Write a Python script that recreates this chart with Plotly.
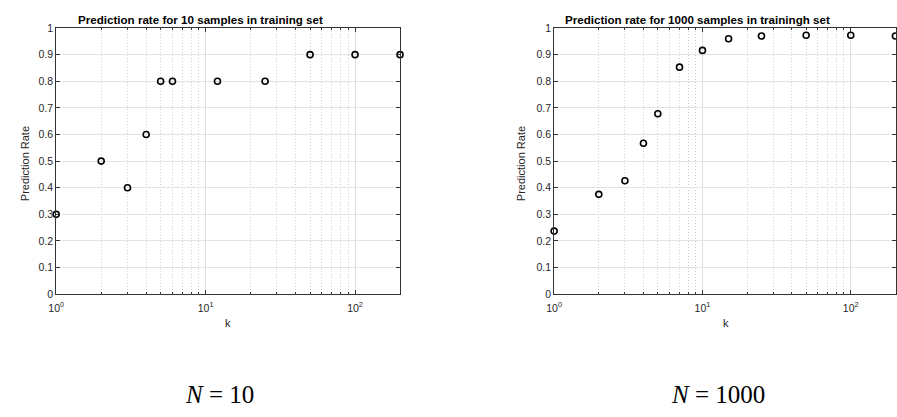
import numpy as np
import plotly.graph_objects as go

# ---- data ----
k_small = [1, 2, 3, 4, 5, 6, 12, 25, 50, 100, 200]
rate_small = [0.3, 0.5, 0.4, 0.6, 0.8, 0.8, 0.8, 0.8, 0.9, 0.9, 0.9]

k_large = [1, 2, 3, 4, 5, 7, 10, 15, 25, 50, 100, 200]
rate_large = [0.237, 0.375, 0.426, 0.567, 0.678, 0.853, 0.916, 0.960, 0.970, 0.973, 0.973, 0.970]

title_left = "Prediction rate for 10 samples in training set"
title_right = "Prediction rate for 1000 samples in trainingh set"
ylabel = "Prediction Rate"
xlabel = "k"
cap_left = "<i>N</i> = 10"
cap_right = "<i>N</i> = 1000"

W, H = 897, 417
FONT = "Liberation Sans, Arial, sans-serif"
TXT = "#262626"

def px(x):
    return x / W

def py(y):
    return (H - y) / H

y_dom = [py(296.7), py(22.7)]
left_dom = [px(48.7), px(396.0)]
right_x0 = 551.7
right_dom = [px(right_x0), 1.0]
right_end = np.log10(200) + 0.004

minor_vals = [m * 10 ** e for e in range(0, 3) for m in range(2, 10) if m * 10 ** e <= 200]

fig = go.Figure()

marker = dict(symbol="circle-open", size=6, color="black", line=dict(width=1.6, color="black"))
fig.add_trace(go.Scatter(x=k_small, y=rate_small, mode="markers", marker=marker,
                         xaxis="x", yaxis="y", showlegend=False, cliponaxis=False))
fig.add_trace(go.Scatter(x=k_large, y=rate_large, mode="markers", marker=marker,
                         xaxis="x2", yaxis="y2", showlegend=False, cliponaxis=False))

def xax(dom, rng, anchor):
    return dict(type="log", domain=dom, range=rng, anchor=anchor,
                tickvals=[1, 10, 100],
                ticktext=["10<sup>0</sup>", "10<sup>1</sup>", "10<sup>2</sup>"],
                showgrid=True, gridcolor="#dedede", gridwidth=1,
                showline=True, linecolor="#333333", linewidth=1, mirror="allticks",
                ticks="inside", ticklen=4, tickcolor="#333333",
                ticklabelstandoff=4,
                minor=dict(tickvals=minor_vals, showgrid=True, gridcolor="#cfcfcf",
                           griddash="1px,2px", gridwidth=1, ticks="inside", ticklen=2,
                           tickcolor="#333333"),
                tickfont=dict(family=FONT, size=10.5, color=TXT),
                zeroline=False, fixedrange=True)

def yax(anchor):
    return dict(domain=y_dom, range=[0, 1], anchor=anchor,
                tickvals=[0, 0.1, 0.2, 0.3, 0.4, 0.5, 0.6, 0.7, 0.8, 0.9, 1],
                ticktext=["0", "0.1", "0.2", "0.3", "0.4", "0.5", "0.6", "0.7", "0.8", "0.9", "1"],
                showgrid=True, gridcolor="#e3e3e3", gridwidth=1,
                showline=True, linecolor="#333333", linewidth=1, mirror="allticks",
                ticks="inside", ticklen=4, tickcolor="#333333",
                tickfont=dict(family=FONT, size=10.5, color=TXT),
                zeroline=False, fixedrange=True)

annotations = [
    dict(text="<b>" + title_left + "</b>", x=px(194.5), y=py(13.5), xref="paper", yref="paper",
         showarrow=False, font=dict(family=FONT, size=11.6, color="black"), xanchor="center", yanchor="middle"),
    dict(text="<b>" + title_right + "</b>", x=px(696), y=py(13.5), xref="paper", yref="paper",
         showarrow=False, font=dict(family=FONT, size=11.6, color="black"), xanchor="center", yanchor="middle"),
    dict(text=xlabel, x=px(222), y=py(326), xref="paper", yref="paper", showarrow=False,
         font=dict(family=FONT, size=11, color=TXT), xanchor="center", yanchor="middle"),
    dict(text=xlabel, x=px(725), y=py(326), xref="paper", yref="paper", showarrow=False,
         font=dict(family=FONT, size=11, color=TXT), xanchor="center", yanchor="middle"),
    dict(text=ylabel, x=px(18), y=py(162), xref="paper", yref="paper", showarrow=False, textangle=-90,
         font=dict(family=FONT, size=11, color=TXT), xanchor="center", yanchor="middle"),
    dict(text=ylabel, x=px(519), y=py(162), xref="paper", yref="paper", showarrow=False, textangle=-90,
         font=dict(family=FONT, size=11, color=TXT), xanchor="center", yanchor="middle"),
    dict(text=cap_left, x=px(214), y=py(400), xref="paper", yref="paper", showarrow=False,
         font=dict(family="Liberation Serif, DejaVu Serif, serif", size=25, color="black"),
         xanchor="center", yanchor="middle"),
    dict(text=cap_right, x=px(716.7), y=py(400), xref="paper", yref="paper", showarrow=False,
         font=dict(family="Liberation Serif, DejaVu Serif, serif", size=25, color="black"),
         xanchor="center", yanchor="middle"),
]

fig.update_layout(
    width=W, height=H,
    margin=dict(l=0, r=0, t=0, b=0),
    paper_bgcolor="white", plot_bgcolor="white",
    xaxis=xax(left_dom, [0, np.log10(200)], "y"),
    yaxis=yax("x"),
    xaxis2=xax(right_dom, [0, right_end], "y2"),
    yaxis2=yax("x2"),
    annotations=annotations,
    showlegend=False,
)

fig.write_html("out.html", config={"displayModeBar": False},
               post_script="document.body.style.margin='0';document.body.style.overflow='hidden';")
